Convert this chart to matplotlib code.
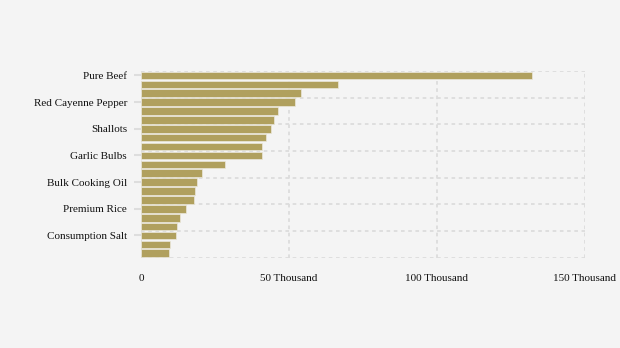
import matplotlib.pyplot as plt
from matplotlib.ticker import FixedLocator, FuncFormatter

# values in thousands, top to bottom
values = [132.1, 66.6, 54.1, 52.0, 46.3, 44.9, 43.9, 42.2, 40.9, 40.9,
          28.4, 20.6, 18.9, 18.2, 17.9, 15.2, 13.2, 12.2, 11.8, 9.8, 9.5]
shown_labels = ['Pure Beef', 'Red Cayenne Pepper', 'Shallots', 'Garlic Bulbs',
                'Bulk Cooking Oil', 'Premium Rice', 'Consumption Salt']
label_pos = [0, 3, 6, 9, 12, 15, 18]
x_ticks = [0, 50, 100, 150]

plt.rcParams['font.family'] = ['Liberation Serif', 'DejaVu Serif']

fig = plt.figure(figsize=(6.2, 3.48), dpi=100, facecolor='#f4f4f4')
ax = fig.add_axes([0.2274, 0.2595, 0.9435 - 0.2274, 0.796 - 0.2595])
ax.set_facecolor('#f4f4f4')

ypos = list(range(len(values)))
ax.barh(ypos, [v * 1000 for v in values], height=0.86, color='#b0a05e',
        edgecolor='#ebe8dc', linewidth=0.5, zorder=3)

ax.set_xlim(0, 150000)
ax.set_ylim(len(values) - 0.5, -0.5)

ax.set_xticks([t * 1000 for t in x_ticks])
ax.xaxis.set_major_formatter(FuncFormatter(
    lambda v, p: '0' if v == 0 else f'{int(v / 1000)} Thousand'))
ax.set_yticks(label_pos)
ax.set_yticklabels(shown_labels)
ax.yaxis.set_minor_locator(FixedLocator([p - 0.5 for p in label_pos] + [len(values) - 0.5]))

ax.tick_params(axis='x', length=0, pad=12, labelsize=8, colors='#111111')
ax.tick_params(axis='y', which='major', length=5, width=1.5, color='#dddddd',
               pad=5, labelsize=8, labelcolor='#111111')
ax.tick_params(axis='y', which='minor', length=0)

ax.grid(axis='x', which='major', color='#dcdcdc', linestyle=(0, (2, 2)), linewidth=1.3, zorder=0)
ax.grid(axis='y', which='minor', color='#dcdcdc', linestyle=(0, (2, 2)), linewidth=1.3, zorder=0)
ax.grid(axis='y', which='major', visible=False)

for s in ax.spines.values():
    s.set_visible(False)

fig.savefig('out.png', dpi=100, facecolor=fig.get_facecolor())
